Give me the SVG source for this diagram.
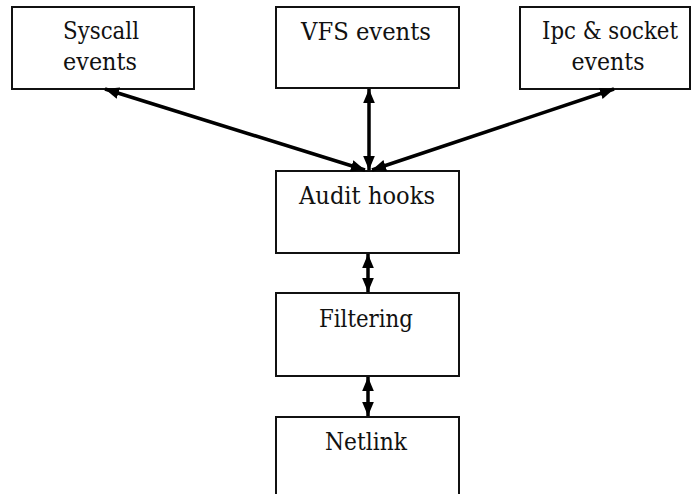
<svg xmlns="http://www.w3.org/2000/svg" width="692" height="494" viewBox="0 0 692 494">
<style>
.box{fill:#fff;stroke:#111;stroke-width:2}
.lbl{font-family:'DejaVu Serif',serif;font-size:25px;fill:#111;text-anchor:middle}
.conn{stroke:#000;stroke-width:3.5;fill:none;marker-start:url(#ah);marker-end:url(#ah)}
</style>
<defs>
<marker id="ah" viewBox="0 0 12 10" refX="12" refY="5" markerWidth="14" markerHeight="12" markerUnits="userSpaceOnUse" orient="auto-start-reverse">
<path d="M0,0 L12,5 L0,10 Z" fill="#000"/>
</marker>
</defs>
<rect width="692" height="494" fill="#fff"/>
<g id="syscall"><rect class="box" x="12" y="7" width="182" height="82"/><text class="lbl" x="101" y="39" textLength="76" lengthAdjust="spacingAndGlyphs">Syscall</text><text class="lbl" x="100" y="70" textLength="74" lengthAdjust="spacingAndGlyphs">events</text></g>
<g id="vfs"><rect class="box" x="276" y="7" width="183" height="81"/><text class="lbl" x="366" y="40" textLength="130" lengthAdjust="spacingAndGlyphs">VFS events</text></g>
<g id="ipc"><rect class="box" x="520" y="7" width="170" height="82"/><text class="lbl" x="610" y="39" textLength="136" lengthAdjust="spacingAndGlyphs">Ipc &amp; socket</text><text class="lbl" x="608" y="70" textLength="73" lengthAdjust="spacingAndGlyphs">events</text></g>
<g id="audit"><rect class="box" x="276" y="171" width="183" height="82"/><text class="lbl" x="367" y="204" textLength="136" lengthAdjust="spacingAndGlyphs">Audit hooks</text></g>
<g id="filtering"><rect class="box" x="276" y="293" width="183" height="83"/><text class="lbl" x="366" y="327" textLength="94" lengthAdjust="spacingAndGlyphs">Filtering</text></g>
<g id="netlink"><rect class="box" x="276" y="417" width="183" height="90"/><text class="lbl" x="366" y="450" textLength="82" lengthAdjust="spacingAndGlyphs">Netlink</text></g>
<g id="connectors">
<line class="conn" x1="365" y1="170" x2="105" y2="89"/>
<line class="conn" x1="369" y1="170" x2="369" y2="89"/>
<line class="conn" x1="372" y1="170" x2="614" y2="89"/>
<line class="conn" x1="368" y1="254" x2="368" y2="292"/>
<line class="conn" x1="368" y1="377" x2="368" y2="416"/>
</g>
</svg>
